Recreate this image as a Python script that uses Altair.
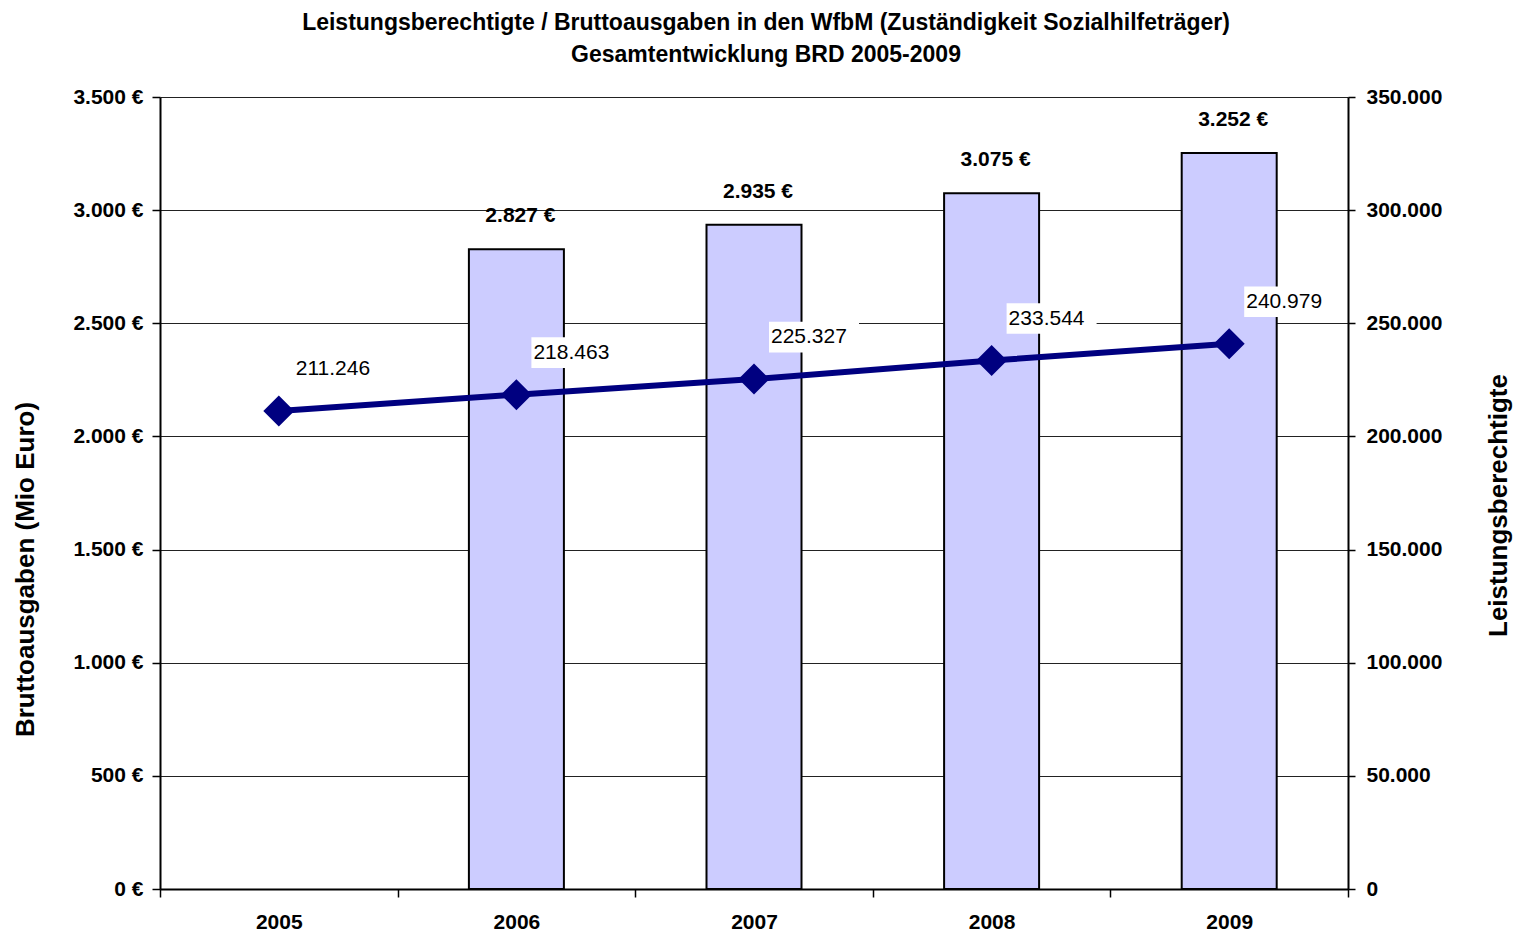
import altair as alt
import pandas as pd

years = ["2005", "2006", "2007", "2008", "2009"]
ausgaben = [None, 2827, 2935, 3075, 3252]          # Mio Euro
berechtigte = [211246, 218463, 225327, 233544, 240979]

df = pd.DataFrame({"Jahr": years, "Ausgaben": ausgaben, "Berechtigte": berechtigte})

FONT = "Liberation Sans"
NAVY = "#000080"
BARFILL = "#CCCCFF"

x_enc = alt.X(
    "Jahr:N",
    sort=years,
    scale=alt.Scale(paddingInner=0, paddingOuter=0),
    axis=alt.Axis(
        title=None, labelAngle=0, tickBand="extent", tickSize=8, tickColor="#000",
        tickWidth=1.5, domainColor="#000", domainWidth=2, labelFont=FONT,
        labelFontSize=21, labelFontWeight="bold", labelColor="#000", labelPadding=14,
    ),
)

y_left = alt.Y(
    "Ausgaben:Q",
    scale=alt.Scale(domain=[0, 3500]),
    axis=alt.Axis(
        values=[0, 500, 1000, 1500, 2000, 2500, 3000, 3500],
        labelExpr="replace(format(datum.value, ','), ',', '.') + ' €'",
        title="Bruttoausgaben (Mio Euro)", titleFont=FONT, titleFontSize=26,
        titleFontWeight="bold", titleColor="#000", titleAngle=270,
        titleX=-135, titleY=472, titleAlign="center", titleBaseline="middle",
        grid=True, gridColor="#222", gridWidth=1,
        tickSize=8, tickColor="#000", tickWidth=1.5, domainColor="#000", domainWidth=2,
        labelFont=FONT, labelFontSize=21, labelFontWeight="bold", labelColor="#000",
        labelPadding=9,
    ),
)

y_right = alt.Y(
    "Berechtigte:Q",
    scale=alt.Scale(domain=[0, 350000]),
    axis=alt.Axis(
        orient="right",
        values=[0, 50000, 100000, 150000, 200000, 250000, 300000, 350000],
        labelExpr="replace(format(datum.value, ','), ',', '.')",
        title="Leistungsberechtigte", titleFont=FONT, titleFontSize=26,
        titleFontWeight="bold", titleColor="#000", titleAngle=270,
        titleX=150, titleY=408, titleAlign="center", titleBaseline="middle",
        grid=False, tickSize=7, tickColor="#000", tickWidth=1.5,
        domainColor="#000", domainWidth=2,
        labelFont=FONT, labelFontSize=21, labelFontWeight="bold", labelColor="#000",
        labelPadding=11,
    ),
)

base = alt.Chart(df)

bars = base.mark_bar(size=95, color=BARFILL, stroke="#000", strokeWidth=2).encode(
    x=x_enc, y=y_left
)
bar_text = (
    base.transform_filter("datum.Ausgaben != null")
    .transform_calculate(lab="replace(format(datum.Ausgaben, ','), ',', '.') + ' €'")
    .mark_text(font=FONT, fontSize=21, fontWeight="bold", color="#000",
               baseline="middle", dy=-33, dx=4)
    .encode(x=x_enc, y=y_left, text="lab:N")
)
left = alt.layer(bars, bar_text)

line = base.mark_line(color=NAVY, strokeWidth=6).encode(x=x_enc, y=y_right)
pts = base.mark_point(shape="diamond", filled=True, size=961, color=NAVY, opacity=1).encode(
    x=x_enc, y=y_right
)
box = base.mark_point(
    shape="M-1,-0.34L1,-0.34L1,0.34L-1,0.34Z", filled=True, size=8100,
    color="white", opacity=1, xOffset=60, yOffset=-42,
).encode(x=x_enc, y=y_right)
line_text = (
    base.transform_calculate(lab="replace(format(datum.Berechtigte, ','), ',', '.')")
    .mark_text(font=FONT, fontSize=21, color="#000", align="left", baseline="middle",
               dx=17, dy=-42)
    .encode(x=x_enc, y=y_right, text="lab:N")
)
right = alt.layer(line, box, pts, line_text)

chart = (
    alt.layer(left, right)
    .resolve_scale(y="independent")
    .properties(
        width=1188,
        height=792,
        autosize=alt.AutoSizeParams(type="none"),
        padding={"left": 152, "top": 89, "right": 166, "bottom": 45},
        title=alt.TitleParams(
            ["Leistungsberechtigte / Bruttoausgaben in den WfbM (Zuständigkeit Sozialhilfeträger)",
             "Gesamtentwicklung BRD 2005-2009"],
            font=FONT, fontSize=23, fontWeight="bold", color="#000",
            anchor="middle", lineHeight=32, offset=19, dx=12,
        ),
    )
    .configure_view(stroke=None)
    .configure(background="white")
)

chart.save("out.html", embed_options={"renderer": "svg", "actions": False})
